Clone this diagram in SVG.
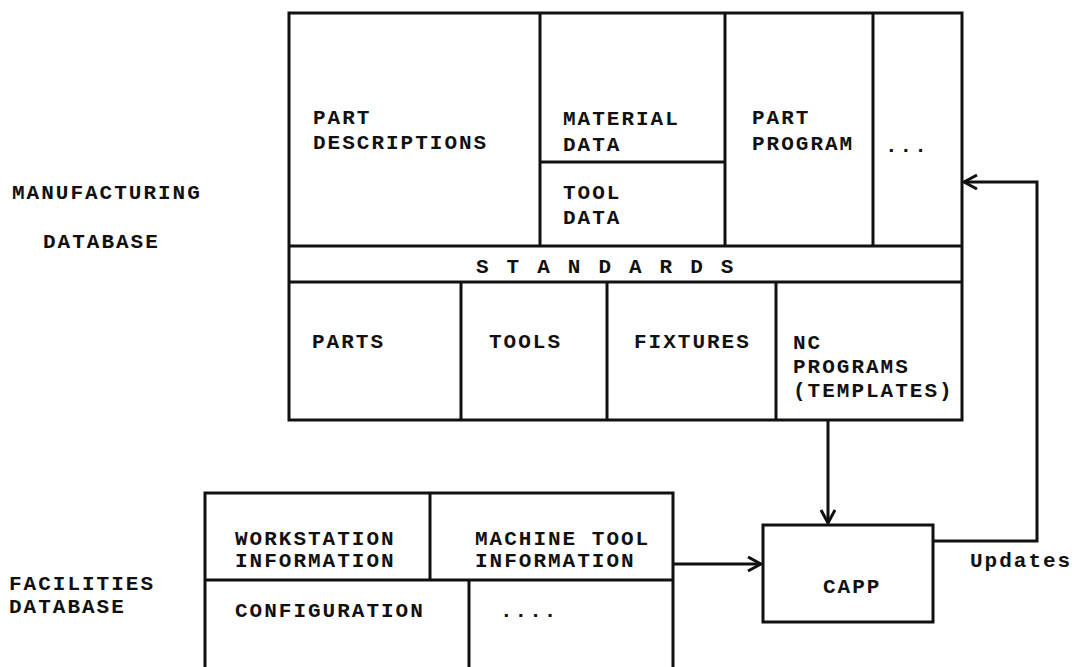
<svg xmlns="http://www.w3.org/2000/svg" width="1074" height="667" viewBox="0 0 1074 667">
<style>
.t{font-family:"Liberation Mono","Courier New",monospace;font-weight:bold;font-size:21px;letter-spacing:2px;fill:#111}
.b{fill:none;stroke:#111;stroke-width:3}
.c{fill:none;stroke:#111;stroke-width:3}
</style>
<defs>
<marker id="ah" markerUnits="userSpaceOnUse" markerWidth="18" markerHeight="18" refX="15" refY="8" orient="auto">
<path d="M2,1 L15,8 L2,15" fill="none" stroke="#111" stroke-width="3"/>
</marker>
</defs>
<rect width="1074" height="667" fill="#fff"/>

<g id="manufacturing-label">
<text class="t" x="12" y="199">MANUFACTURING</text>
<text class="t" x="43" y="248">DATABASE</text>
</g>

<g id="manufacturing-db">
<rect class="b" x="289" y="13" width="673" height="407"/>
<line class="b" x1="289" y1="246" x2="962" y2="246"/>
<line class="b" x1="289" y1="282" x2="962" y2="282"/>
</g>

<g id="part-descriptions">
<line class="b" x1="540" y1="13" x2="540" y2="246"/>
<text class="t" x="313" y="124">PART</text>
<text class="t" x="313" y="149">DESCRIPTIONS</text>
</g>
<g id="material-data">
<line class="b" x1="540" y1="162" x2="725" y2="162"/>
<text class="t" x="563" y="125">MATERIAL</text>
<text class="t" x="563" y="151">DATA</text>
</g>
<g id="tool-data">
<text class="t" x="563" y="199">TOOL</text>
<text class="t" x="563" y="224">DATA</text>
</g>
<g id="part-program">
<line class="b" x1="725" y1="13" x2="725" y2="246"/>
<text class="t" x="752" y="124">PART</text>
<text class="t" x="752" y="150">PROGRAM</text>
</g>
<g id="more-upper">
<line class="b" x1="873" y1="13" x2="873" y2="246"/>
<text class="t" x="885" y="152">...</text>
</g>
<g id="standards">
<text class="t" x="476" y="273" style="letter-spacing:18px">STANDARDS</text>
</g>
<g id="parts">
<text class="t" x="312" y="348">PARTS</text>
</g>
<g id="tools">
<line class="b" x1="461" y1="282" x2="461" y2="420"/>
<text class="t" x="489" y="348">TOOLS</text>
</g>
<g id="fixtures">
<line class="b" x1="607" y1="282" x2="607" y2="420"/>
<text class="t" x="634" y="348">FIXTURES</text>
</g>
<g id="nc-programs">
<line class="b" x1="776" y1="282" x2="776" y2="420"/>
<text class="t" x="793" y="349">NC</text>
<text class="t" x="793" y="373">PROGRAMS</text>
<text class="t" x="793" y="397">(TEMPLATES)</text>
</g>

<g id="facilities-label">
<text class="t" x="9" y="590">FACILITIES</text>
<text class="t" x="9" y="613">DATABASE</text>
</g>

<g id="facilities-db">
<path class="b" d="M205,680 L205,493 L673,493 L673,680"/>
<line class="b" x1="205" y1="580" x2="673" y2="580"/>
</g>
<g id="workstation-info">
<line class="b" x1="430" y1="493" x2="430" y2="580"/>
<text class="t" x="235" y="545">WORKSTATION</text>
<text class="t" x="235" y="567">INFORMATION</text>
</g>
<g id="machine-tool-info">
<text class="t" x="475" y="545">MACHINE TOOL</text>
<text class="t" x="475" y="567">INFORMATION</text>
</g>
<g id="configuration">
<line class="b" x1="469" y1="580" x2="469" y2="680"/>
<text class="t" x="235" y="617">CONFIGURATION</text>
</g>
<g id="more-lower">
<text class="t" x="500" y="617">....</text>
</g>

<g id="capp">
<rect class="b" x="763" y="525" width="170" height="97"/>
<text class="t" x="823" y="593">CAPP</text>
</g>

<g id="connectors">
<line class="c" x1="828" y1="420" x2="828" y2="523" marker-end="url(#ah)"/>
<line class="c" x1="673" y1="564" x2="761" y2="564" marker-end="url(#ah)"/>
<path class="c" d="M933,541 L1037,541 L1037,182 L964,182" marker-end="url(#ah)"/>
<text class="t" x="970" y="567">Updates</text>
</g>
</svg>
